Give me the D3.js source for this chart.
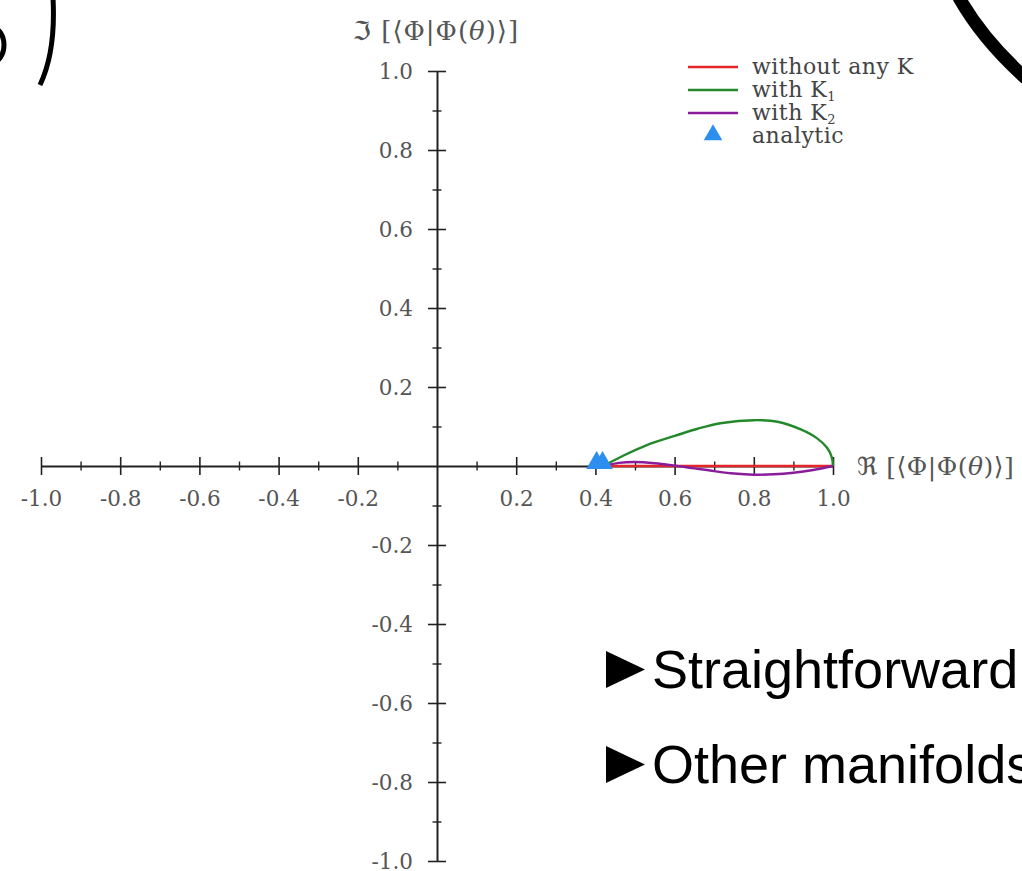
<!DOCTYPE html>
<html>
<head>
<meta charset="utf-8">
<script src="https://cdn.jsdelivr.net/npm/d3@7"></script>
<style>
  html, body { margin: 0; padding: 0; background: #fff; }
  svg { display: block; }
</style>
</head>
<body>
<svg id="chart" width="1022" height="871"></svg>
<script>
// ---------- data ----------
const majorTicks = [-1.0, -0.8, -0.6, -0.4, -0.2, 0.2, 0.4, 0.6, 0.8, 1.0];
const minorTicks = [-0.9, -0.7, -0.5, -0.3, -0.1, 0.1, 0.3, 0.5, 0.7, 0.9];

const seriesNames = ["without any K", "with K", "with K", "analytic"];
const seriesSubs = ["", "1", "2", ""];
const seriesColors = ["#e4262b", "#23892b", "#8a1c9c", "#2c8ff0"];

const redX = [0.41, 0.55, 0.7, 0.85, 1.0];
const redY = [0, 0, 0, 0, 0];

const greenX = [0.42, 0.47, 0.53, 0.60, 0.66, 0.72, 0.80, 0.86, 0.92, 0.96, 0.985, 0.997, 1.0];
const greenY = [0.0, 0.026, 0.053, 0.076, 0.095, 0.109, 0.116, 0.112, 0.092, 0.07, 0.046, 0.022, 0.0];

const purpleX = [0.42, 0.46, 0.50, 0.55, 0.60, 0.65, 0.70, 0.75, 0.80, 0.85, 0.90, 0.95, 1.0];
const purpleY = [0.0, 0.008, 0.010, 0.007, 0.001, -0.006, -0.013, -0.019, -0.022, -0.021, -0.017, -0.010, 0.0];

const analyticX = [0.403, 0.418];
const analyticY = [0.0, 0.0];

const bullets = ["Straightforward", "Other manifolds"];

// ---------- setup ----------
const svg = d3.select("#chart");
const x = d3.scaleLinear().domain([-1, 1]).range([41, 833]);
const y = d3.scaleLinear().domain([-1, 1]).range([861, 71]);
const fmt = d => d.toFixed(1);
const serif = "'DejaVu Serif', serif";
const labelColor = "#555";

// ---------- slide decorations ----------
const deco = svg.append("g").attr("fill", "none").attr("stroke", "#000");
deco.append("ellipse").attr("cx", -9).attr("cy", 45).attr("rx", 13).attr("ry", 18).attr("stroke-width", 5);
deco.append("path").attr("d", "M53,-2 C55,35 51,62 40,85").attr("stroke-width", 5);
deco.append("path").attr("d", "M957,-6 Q982,40 1030,82").attr("stroke-width", 13);

// ---------- axes ----------
const xAxisG = svg.append("g").attr("transform", `translate(0,${y(0)})`);
xAxisG.call(d3.axisBottom(x).tickValues(majorTicks).tickFormat(fmt).tickSize(9).tickSizeOuter(0).tickPadding(16));
xAxisG.selectAll(".tick line").attr("y1", -9).attr("y2", 9).attr("stroke", "#222").attr("stroke-width", 1.6);
const xMinor = svg.append("g").attr("transform", `translate(0,${y(0)})`);
xMinor.call(d3.axisBottom(x).tickValues(minorTicks).tickFormat("").tickSize(4.5).tickSizeOuter(0));
xMinor.select(".domain").remove();
xMinor.selectAll(".tick line").attr("y1", -4.5).attr("y2", 4.5).attr("stroke", "#222").attr("stroke-width", 1.4);

const yAxisG = svg.append("g").attr("transform", `translate(${x(0)},0)`);
yAxisG.call(d3.axisLeft(y).tickValues(majorTicks).tickFormat(fmt).tickSize(9).tickSizeOuter(0).tickPadding(15));
yAxisG.selectAll(".tick line").attr("x1", -9).attr("x2", 9).attr("stroke", "#222").attr("stroke-width", 1.6);
const yMinor = svg.append("g").attr("transform", `translate(${x(0)},0)`);
yMinor.call(d3.axisLeft(y).tickValues(minorTicks).tickFormat("").tickSize(4.5).tickSizeOuter(0));
yMinor.select(".domain").remove();
yMinor.selectAll(".tick line").attr("x1", -4.5).attr("x2", 4.5).attr("stroke", "#222").attr("stroke-width", 1.4);

[xAxisG, yAxisG].forEach(g => {
  g.select(".domain").attr("stroke", "#222").attr("stroke-width", 2);
  g.selectAll(".tick text").attr("font-family", serif).attr("font-size", 21.5).attr("fill", labelColor);
});
yAxisG.selectAll(".tick text").attr("dy", "0.36em");

// axis titles
function axisTitle(sel, fr) {
  sel.append("tspan").text(fr).attr("font-family", "'DejaVu Sans', sans-serif");
  sel.append("tspan").text(" [⟨Φ|Φ(");
  sel.append("tspan").text("θ").attr("font-style", "italic");
  sel.append("tspan").text(")⟩]");
}
const yTitle = svg.append("text").attr("x", 436).attr("y", 40).attr("text-anchor", "middle")
  .attr("font-family", serif).attr("font-size", 26).attr("letter-spacing", 1).attr("fill", labelColor);
axisTitle(yTitle, "ℑ");
const xTitle = svg.append("text").attr("x", 857).attr("y", 475).attr("text-anchor", "start")
  .attr("font-family", serif).attr("font-size", 25).attr("letter-spacing", 0.5).attr("fill", labelColor);
axisTitle(xTitle, "ℜ");

// ---------- series ----------
const line = d3.line().x(d => x(d[0])).y(d => y(d[1])).curve(d3.curveCatmullRom.alpha(0.5));
const series = [
  {xs: redX, ys: redY, c: seriesColors[0]},
  {xs: greenX, ys: greenY, c: seriesColors[1]},
  {xs: purpleX, ys: purpleY, c: seriesColors[2]}
];
series.forEach(s => {
  svg.append("path").datum(s.xs.map((v, i) => [v, s.ys[i]]))
    .attr("d", line).attr("fill", "none").attr("stroke", s.c).attr("stroke-width", 2.4);
});
const tri = d3.symbol().type(d3.symbolTriangle).size(185);
svg.append("g").selectAll("path").data(analyticX.map((v, i) => [v, analyticY[i]])).join("path")
  .attr("d", tri).attr("transform", d => `translate(${x(d[0])},${y(d[1]) - 3})`)
  .attr("fill", seriesColors[3]);

// ---------- legend ----------
const legend = svg.append("g");
const legY = [67, 90, 113, 136];
seriesNames.forEach((name, i) => {
  if (i < 3) {
    legend.append("line").attr("x1", 688).attr("x2", 738).attr("y1", legY[i]).attr("y2", legY[i])
      .attr("stroke", seriesColors[i]).attr("stroke-width", 2.4);
  } else {
    legend.append("path").attr("d", d3.symbol().type(d3.symbolTriangle).size(150))
      .attr("transform", `translate(713,${legY[i] - 1})`).attr("fill", seriesColors[i]);
  }
  const t = legend.append("text").attr("x", 752).attr("y", legY[i]).attr("dy", "0.3em")
    .attr("font-family", serif).attr("font-size", 22).attr("letter-spacing", 0.5).attr("fill", "#444");
  t.append("tspan").text(name);
  if (seriesSubs[i]) t.append("tspan").text(seriesSubs[i]).attr("font-size", 13).attr("dy", 4);
});

// ---------- bullet text ----------
const bulletY = [688, 783];
bullets.forEach((b, i) => {
  const by = bulletY[i];
  svg.append("path").attr("d", `M606,${by - 37} L645,${by - 18.5} L606,${by} Z`).attr("fill", "#000");
  svg.append("text").attr("x", 652).attr("y", by).attr("font-family", "'Liberation Sans', Arial, sans-serif")
    .attr("font-size", 54).attr("fill", "#000").text(b);
});
</script>
</body>
</html>
